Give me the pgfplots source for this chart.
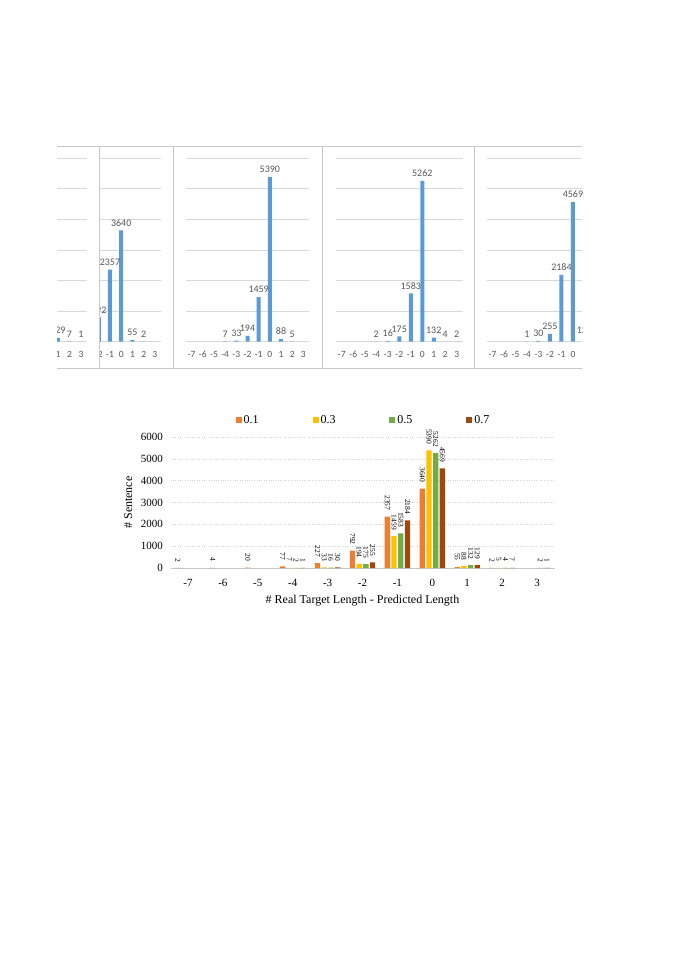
\documentclass[border=0pt]{standalone}
\usepackage{pgfplots}
\usepackage{pgfplotstable}
\pgfplotsset{compat=1.18}
\usepackage{fontspec}
\setmainfont{Liberation Serif}
\newfontfamily\calfont{Carlito}
\definecolor{XBlue}{HTML}{5B9BD5}
\definecolor{XOrange}{HTML}{ED7D31}
\definecolor{XGold}{HTML}{FFC000}
\definecolor{XGreen}{HTML}{70AD47}
\definecolor{XBrown}{HTML}{9E480E}
\definecolor{XGrid}{HTML}{D9D9D9}
\definecolor{XText}{HTML}{595959}
\definecolor{XFrame}{HTML}{C8C8C8}
\newcommand{\fs}[1]{\fontsize{#1bp}{#1bp}\selectfont}

% counts per difference, one table per threshold
\pgfplotstableread{
x y
-7 2
-6 4
-5 20
-4 77
-3 227
-2 792
-1 2357
0 3640
1 55
2 2
}\tabA
\pgfplotstableread{
x y
-4 7
-3 33
-2 194
-1 1459
0 5390
1 88
2 5
}\tabB
\pgfplotstableread{
x y
-4 2
-3 16
-2 175
-1 1583
0 5262
1 132
2 4
3 2
}\tabC
\pgfplotstableread{
x y
-4 1
-3 30
-2 255
-1 2184
0 4569
1 129
2 7
3 1
}\tabD

\pgfplotsset{
  toppanel/.style={
    scale only axis, width=#1, height=183.4bp,
    anchor=south west,
    xmin=-7.5, xmax=3.5, ymin=0, ymax=6000,
    axis line style={draw=none}, major tick length=0,
    xtick={-7,-6,...,3}, xticklabels={-7,-6,-5,-4,-3,-2,-1,0,1,2,3},
    xticklabel style={font=\calfont\fs{9.5}, text=XText, yshift=-6bp},
    ytick={0,1000,...,6000}, yticklabel=\empty,
    ymajorgrids, major grid style={XGrid, line width=0.8bp},
    ybar, bar width=4bp,
    nodes near coords,
    nodes near coords style={font=\calfont\fs{10}, text=XText, inner sep=1bp, yshift=3bp},
    /pgf/number format/1000 sep={}, /pgf/number format/assume math mode=true,
    clip=false,
  },
}

\begin{document}
\begin{tikzpicture}
\fill[white] (0bp,0bp) rectangle (676bp,-956bp);
\useasboundingbox (0bp,0bp) rectangle (676bp,-956bp);

% ---- top strip of single-series charts ----
\begin{scope}
\clip (57bp,-146bp) rectangle (99.3bp,-368bp);
\begin{axis}[toppanel=126.5bp, at={(-39.8bp,-341.7bp)}]
\addplot[fill=XBlue, draw=none] table {\tabD};
\end{axis}
\end{scope}

\begin{scope}
\clip (99.3bp,-146bp) rectangle (173.3bp,-368bp);
\begin{axis}[toppanel=123.5bp, at={(37bp,-341.7bp)}]
\addplot[fill=XBlue, draw=none] table {\tabA};
\end{axis}
\end{scope}

\begin{scope}
\clip (173.3bp,-146bp) rectangle (322.5bp,-368bp);
\begin{axis}[toppanel=122.8bp, at={(186.1bp,-341.7bp)}]
\addplot[fill=XBlue, draw=none] table {\tabB};
\end{axis}
\end{scope}

\begin{scope}
\clip (322.5bp,-146bp) rectangle (474.5bp,-368bp);
\begin{axis}[toppanel=126.5bp, at={(336bp,-341.7bp)}]
\addplot[fill=XBlue, draw=none] table {\tabC};
\end{axis}
\end{scope}

\begin{scope}
\clip (474.5bp,-146bp) rectangle (582bp,-368bp);
\begin{axis}[toppanel=126.5bp, at={(486.7bp,-341.7bp)}]
\addplot[fill=XBlue, draw=none] table {\tabD};
\end{axis}
\end{scope}

\draw[XFrame, line width=0.8bp] (57bp,-146bp) -- (582bp,-146bp);
\draw[XFrame, line width=0.8bp] (57bp,-368bp) -- (582bp,-368bp);
\foreach \xx in {99.3,173.3,322.5,474.5}
  \draw[XFrame, line width=1bp] (\xx bp,-146bp) -- (\xx bp,-368bp);

% ---- combined chart ----
\begin{axis}[
  at={(170.5bp,-568bp)}, anchor=south west, scale only axis,
  width=384bp, height=131bp,
  xmin=-7.5, xmax=3.5, ymin=0, ymax=6000,
  axis line style={draw=none}, major tick length=0,
  xtick={-7,-6,...,3}, xticklabels={-7,-6,-5,-4,-3,-2,-1,0,1,2,3},
  ytick={1000,2000,...,6000}, yticklabels={1000,2000,3000,4000,5000,6000},
  extra y ticks={0}, extra y tick labels={0},
  extra y tick style={major grid style={solid, gray!45, line width=0.8bp}},
  ymajorgrids, major grid style={dotted, gray!35, line width=0.5bp},
  ticklabel style={font=\fs{11}},
  xticklabel style={yshift=-8bp},
  yticklabel style={xshift=-4bp},
  xlabel={\# Real Target Length - Predicted Length},
  ylabel={\# Sentence},
  label style={font=\fs{12}},
  xlabel style={yshift=-1bp},
  ylabel style={yshift=2bp},
  ybar=1.4bp, bar width=5.3bp,
  nodes near coords,
  nodes near coords style={rotate=-90, anchor=east, font=\fs{7.5}, inner xsep=6bp, inner ysep=0bp},
  /pgf/number format/1000 sep={}, /pgf/number format/assume math mode=true,
  legend style={at={(0.5026,1.13)}, anchor=center, draw=none, fill=none,
    legend columns=4, font=\fs{12},
    /tikz/every even column/.append style={column sep=52bp}},
  legend image code/.code={\fill[#1] (0bp,-3bp) rectangle (6bp,3bp);},
  clip=false,
]
\addplot[fill=XOrange, draw=none] table {\tabA};
\addplot[fill=XGold, draw=none] table {\tabB};
\addplot[fill=XGreen, draw=none] table {\tabC};
\addplot[fill=XBrown, draw=none] table {\tabD};
\legend{0.1, 0.3, 0.5, 0.7}
\end{axis}
\end{tikzpicture}
\end{document}
